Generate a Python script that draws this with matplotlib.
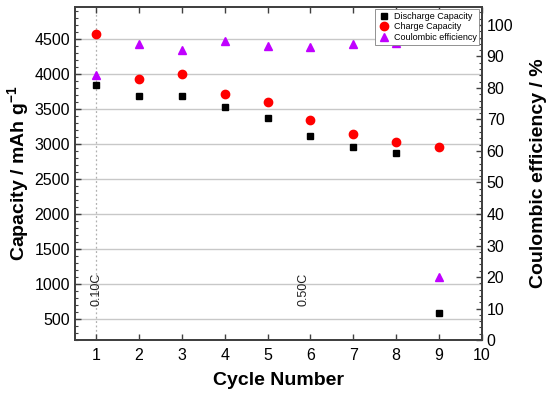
import numpy as np
import matplotlib
matplotlib.use('Agg')
import matplotlib.pyplot as plt
from matplotlib.ticker import MultipleLocator

plt.rcParams['font.family'] = ['Liberation Sans', 'DejaVu Sans']
plt.rcParams['mathtext.fontset'] = 'custom'
plt.rcParams['mathtext.rm'] = 'Liberation Sans'
plt.rcParams['mathtext.bf'] = 'Liberation Sans:bold'

# data
cycles = [1, 2, 3, 4, 5, 6, 7, 8, 9]
discharge = [3837, 3690, 3680, 3529, 3366, 3119, 2951, 2866, 586]
charge = [4566, 3923, 4004, 3714, 3600, 3347, 3137, 3033, 2961]
coulombic = [84.1, 94.1, 92.1, 94.9, 93.4, 93.1, 94.1, 94.4, 20.1]
rate_labels = ['0.10C', '0.50C']
rate_pos = [1, 5.83]

spine_col = '#404040'

fig = plt.figure(figsize=(5.5, 3.94), dpi=100)
ax = fig.add_axes([0.136, 0.137, 0.740, 0.846])
ax2 = ax.twinx()

for y in range(500, 5000, 500):
    ax.axhline(y, color='#c8c8c8', lw=1.0, zorder=0)
ax.axvline(1, color='#b0b0b0', lw=0.9, ls=(0, (1.5, 2)), zorder=0)

h1, = ax.plot(cycles, discharge, 's', color='black', ms=5, ls='none',
              label='Discharge Capacity', zorder=3)
h2, = ax.plot(cycles, charge, 'o', color='#ff0000', ms=6, ls='none',
              label='Charge Capacity', zorder=3)
h3, = ax2.plot(cycles, coulombic, '^', color='#c000ff', ms=6, ls='none',
               label='Coulombic efficiency', zorder=3)

for lab, xp in zip(rate_labels, rate_pos):
    ax.text(xp, 930, lab, rotation=90, fontsize=9, ha='center', va='center',
            color='#202020')

ax.set_xlim(0.5, 10)
ax.set_ylim(200, 4960)
ax2.set_ylim(0, 105.8)

ax.xaxis.set_major_locator(MultipleLocator(1))
ax.yaxis.set_major_locator(MultipleLocator(500))
ax.yaxis.set_minor_locator(MultipleLocator(100))
ax2.yaxis.set_major_locator(MultipleLocator(10))
ax2.yaxis.set_minor_locator(MultipleLocator(2))
ax.set_yticks(range(500, 5000, 500))

ax.tick_params(axis='x', which='major', direction='in', top=True, length=4,
               width=1, labelsize=11.5, color=spine_col, pad=6)
ax.tick_params(axis='y', which='major', direction='in', length=4, width=1,
               labelsize=11.5, color=spine_col)
ax.tick_params(axis='y', which='minor', direction='in', length=2, width=0.8,
               color=spine_col)
ax2.tick_params(axis='y', which='major', direction='in', length=4, width=1,
                labelsize=11.5, color=spine_col)
ax2.tick_params(axis='y', which='minor', direction='in', length=2, width=0.8,
                color=spine_col)

for a in (ax, ax2):
    for s in a.spines.values():
        s.set_color(spine_col)
        s.set_linewidth(1.3)

ax.set_xlabel('Cycle Number', fontsize=14, fontweight='bold', labelpad=6)
ax.set_ylabel(r'Capacity / mAh g$^{\mathbf{-1}}$', fontsize=14,
              fontweight='bold', labelpad=2)
ax2.set_ylabel('Coulombic efficiency / %', fontsize=14, fontweight='bold',
               labelpad=12)

leg = ax2.legend([h1, h2, h3], [h.get_label() for h in (h1, h2, h3)],
                 loc='upper right', fontsize=6.5, frameon=True, fancybox=False,
                 edgecolor='#808080', framealpha=1, borderpad=0.3,
                 labelspacing=0.15, handletextpad=0.3, handlelength=1.5,
                 borderaxespad=0.3, markerscale=1.0)
leg.get_frame().set_linewidth(0.6)

fig.savefig('out.png', dpi=100)
